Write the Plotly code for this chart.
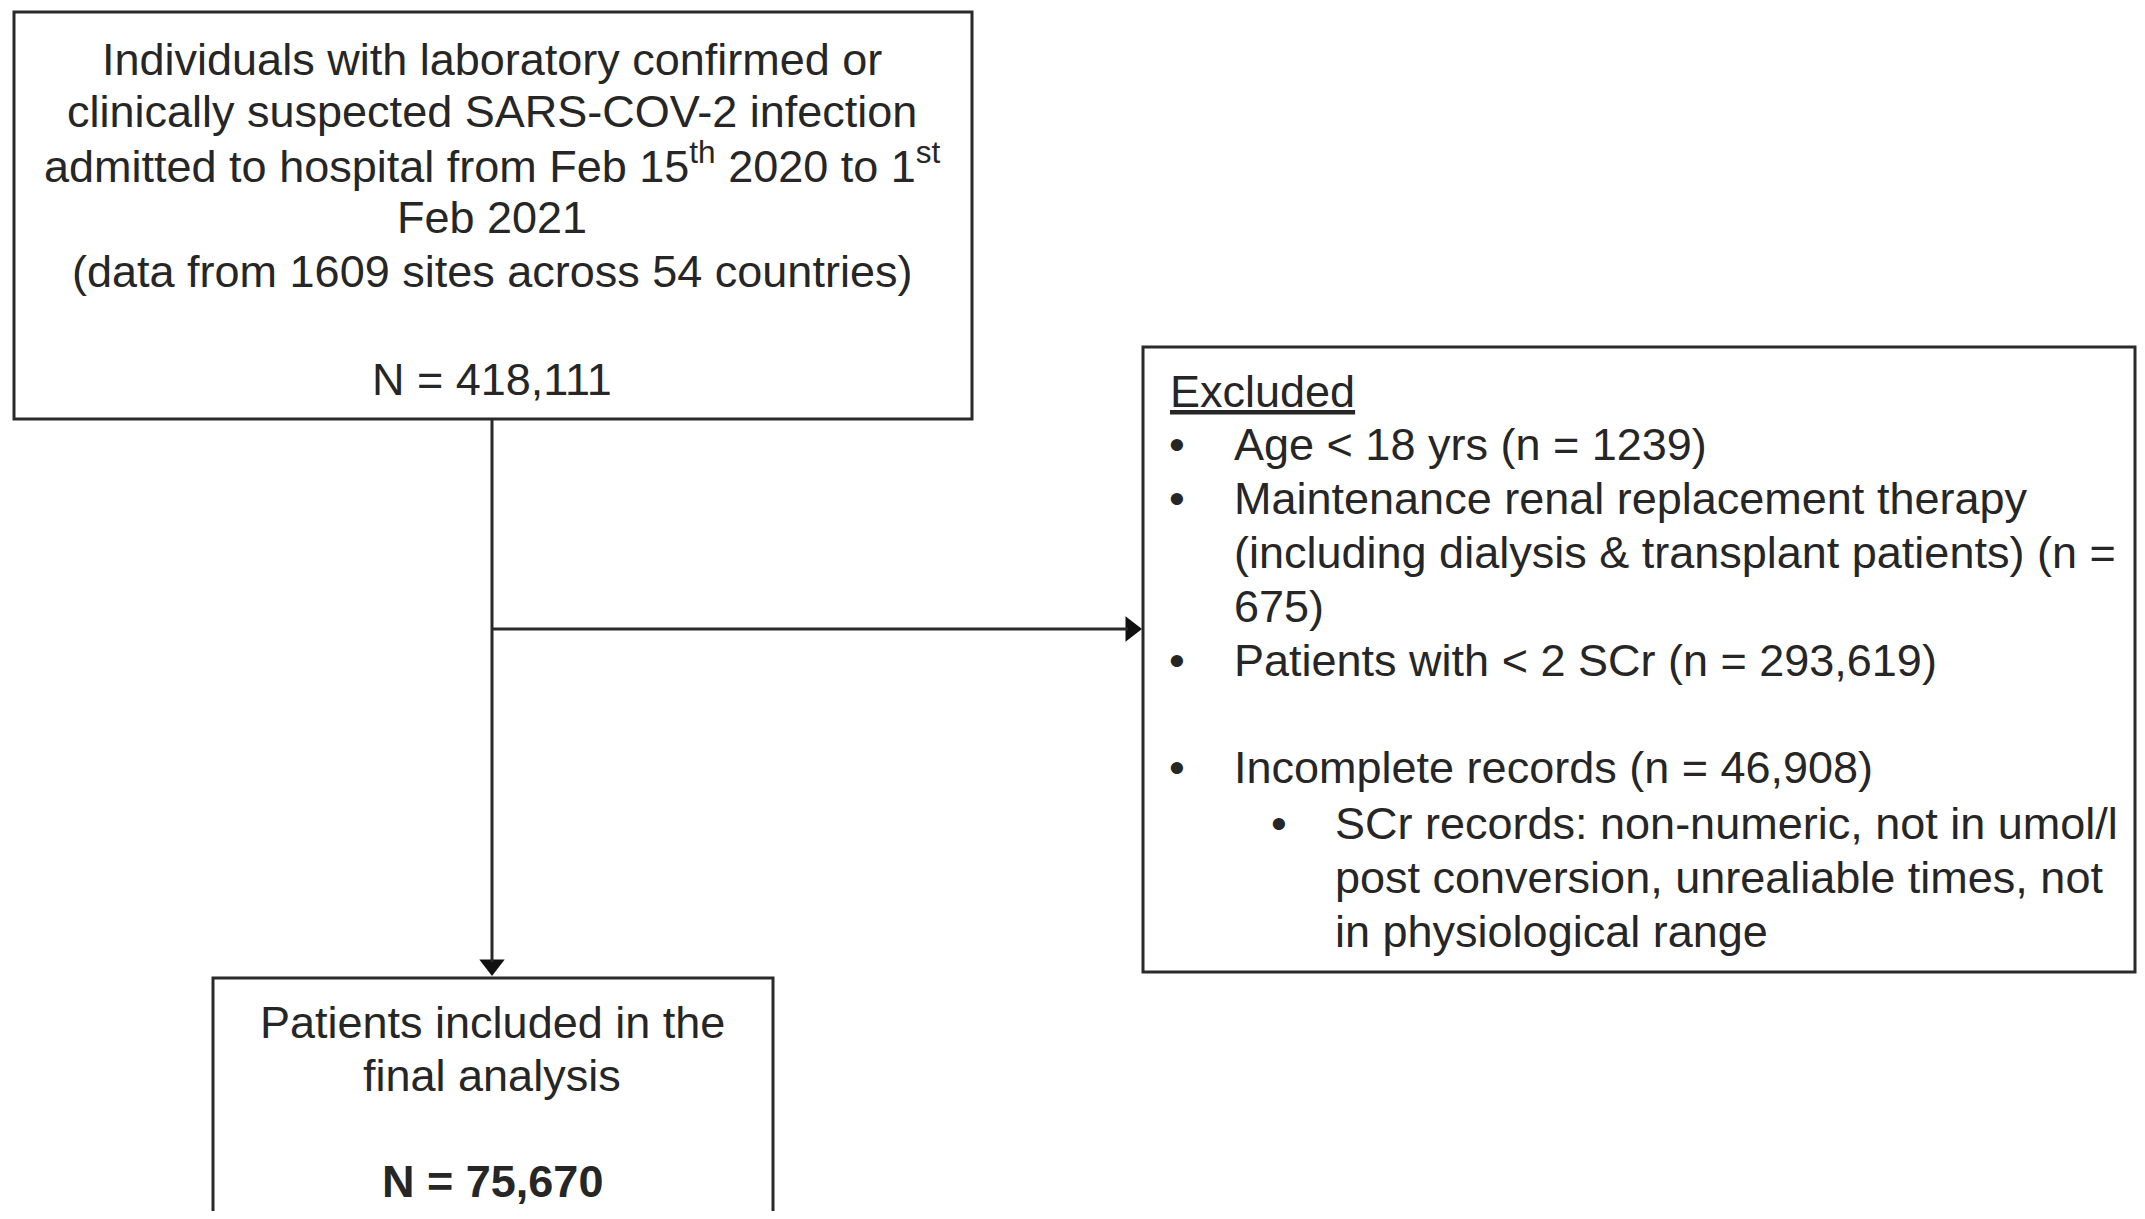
import plotly.graph_objects as go

# ---- data ----
top_lines = [
    "Individuals with laboratory confirmed or",
    "clinically suspected SARS-COV-2 infection",
    "admitted to hospital from Feb 15<sup>th</sup> 2020 to 1<sup>st</sup>",
    "Feb 2021",
    "(data from 1609 sites across 54 countries)",
]
total_n = "418,111"
excluded_title = "Excluded"
excluded_lines = [
    ("•", "Age < 18 yrs (n = 1239)"),
    ("•", "Maintenance renal replacement therapy"),
    ("", "(including dialysis & transplant patients) (n ="),
    ("", "675)"),
    ("•", "Patients with < 2 SCr (n = 293,619)"),
    ("", ""),
    ("•", "Incomplete records (n = 46,908)"),
]
sub_lines = [
    ("•", "SCr records: non-numeric, not in umol/l"),
    ("", "post conversion, unrealiable times, not"),
    ("", "in physiological range"),
]
final_lines = ["Patients included in the", "final analysis"]
final_n = "75,670"

# page body has an 8px margin; map data coords to screen pixels
OFF = 8
W, H = 2145 - 2 * OFF, 1219 - 2 * OFF
FONT = "Liberation Sans, Arial, sans-serif"
FS = 45
TXT = "#262626"
LINE = "#2a2a2a"

fig = go.Figure()

shapes = []
def box(x0, y0, x1, y1):
    shapes.append(dict(type="rect", xref="x", yref="y", x0=x0, y0=y0, x1=x1, y1=y1,
                       line=dict(color=LINE, width=3), fillcolor="rgba(0,0,0,0)"))

box(14, 12, 972, 419)
box(1143, 347, 2135, 972)
box(213, 978, 773, 1240)
# connectors
shapes.append(dict(type="line", xref="x", yref="y", x0=492, y0=419, x1=492, y1=962,
                   line=dict(color=LINE, width=3)))
shapes.append(dict(type="line", xref="x", yref="y", x0=492, y0=629, x1=1128, y1=629,
                   line=dict(color=LINE, width=3)))
# arrowheads
fig.add_trace(go.Scatter(x=[492], y=[965], mode="markers",
                         marker=dict(symbol="triangle-down", size=22, color="#111"),
                         hoverinfo="skip", showlegend=False, cliponaxis=False))
fig.add_trace(go.Scatter(x=[1131], y=[629], mode="markers",
                         marker=dict(symbol="triangle-right", size=22, color="#111"),
                         hoverinfo="skip", showlegend=False, cliponaxis=False))

ann = []
def txt(x, y, s, xanchor="center", size=FS, bold=False):
    if bold:
        s = "<b>" + s + "</b>"
    ann.append(dict(x=x, y=y, xref="x", yref="y", text=s, showarrow=False,
                    xanchor=xanchor, yanchor="middle",
                    font=dict(family=FONT, size=size, color=TXT)))

top_y = [59, 111, 163, 217, 271]
for y, s in zip(top_y, top_lines):
    txt(492, y, s)
txt(492, 379, "N = " + total_n)

txt(1168, 391, "<u>" + excluded_title + "</u>", xanchor="left")
ex_y = [444, 498, 552, 606, 660, 713, 767]
for y, (b, s) in zip(ex_y, excluded_lines):
    if b:
        txt(1177, y, b)
    if s:
        txt(1232, y, s, xanchor="left")
sub_y = [823, 877, 931]
for y, (b, s) in zip(sub_y, sub_lines):
    if b:
        txt(1279, y, b)
    txt(1333, y, s, xanchor="left")

fy = [1022, 1075]
for y, s in zip(fy, final_lines):
    txt(492, y, s)
txt(492, 1181, "N = " + final_n, bold=True)

fig.update_layout(
    width=W, height=H, margin=dict(l=0, r=0, t=0, b=0),
    paper_bgcolor="white", plot_bgcolor="white",
    xaxis=dict(range=[OFF, OFF + W], visible=False, fixedrange=True),
    yaxis=dict(range=[OFF + H, OFF], visible=False, fixedrange=True),
    shapes=shapes, annotations=ann, showlegend=False,
)
fig.write_html("out.html")
